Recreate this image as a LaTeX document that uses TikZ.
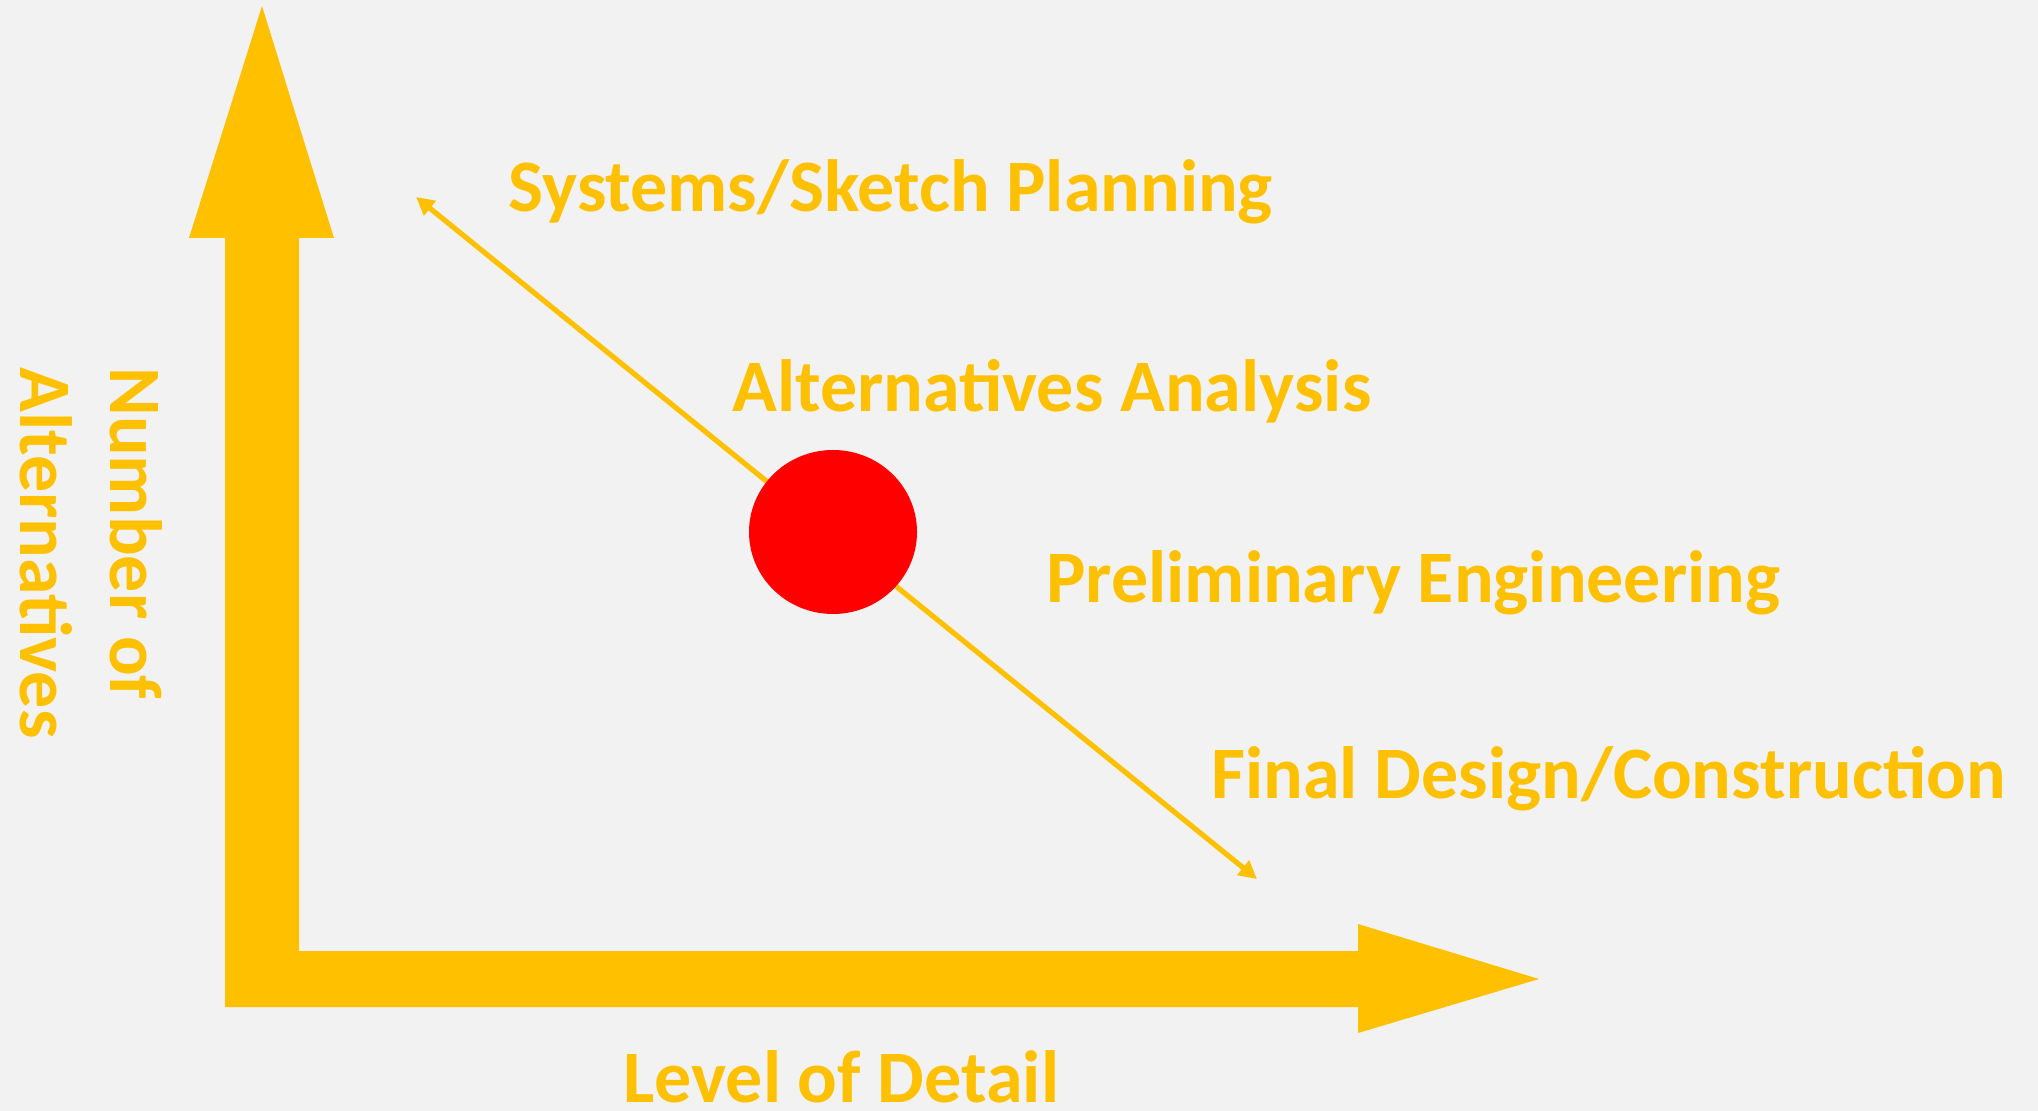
\documentclass[tikz,border=0pt]{standalone}
\usepackage{fontspec}
\setmainfont{Carlito}
\usetikzlibrary{arrows.meta,shapes.geometric}
\definecolor{gold}{HTML}{FFC000}
\definecolor{paper}{HTML}{F2F2F2}
\definecolor{dotred}{HTML}{FF0000}

\begin{document}
\begin{tikzpicture}[x=0.5pt, y=-0.5pt,
    stagetext/.style={text=gold, inner sep=0pt, anchor=base west,
        font=\fontsize{37}{44}\selectfont\bfseries}]
    % Background
    \fill[paper] (0,0) rectangle (2038,1111);
    \useasboundingbox (0,0) rectangle (2038,1111);

    % Axes
    \fill[gold] (225,1007) -- (225,238) -- (189,238) -- (262,6)
        -- (334,238) -- (299,238) -- (299,951) -- (1358,951)
        -- (1358,924) -- (1539,979) -- (1358,1033) -- (1358,1007)
        -- cycle;
    \node[stagetext, rotate=-90] (AxisY1) at (110,367) {Number of};
    \node[stagetext, rotate=-90] (AxisY2) at (20,367) {Alternatives};
    \node[stagetext] (AxisX) at (623,1102) {Level of Detail};

    % Stages
    \node[stagetext] (StageSketch) at (508,212) {Systems/Sketch Planning};
    \node[stagetext] (StageAlt) at (732,412) {Alternatives Analysis};
    \node[stagetext] (StagePrelim) at (1046,603) {Preliminary Engineering};
    \node[stagetext] (StageFinal) at (1211,798) {Final Design/Construction};

    % Scale
    \coordinate (ScaleTop) at (416,197);
    \coordinate (ScaleBottom) at (1257,879);
    \draw[gold, line width=2.6pt,
        {Triangle[length=9pt,width=9pt]}-{Triangle[length=9pt,width=9pt]}]
        (ScaleTop) -- (ScaleBottom);
    \node[ellipse, fill=dotred,
        minimum width=84pt,
        minimum height=82pt,
        inner sep=0pt
    ] (Marker) at (833,532) {};
\end{tikzpicture}
\end{document}
